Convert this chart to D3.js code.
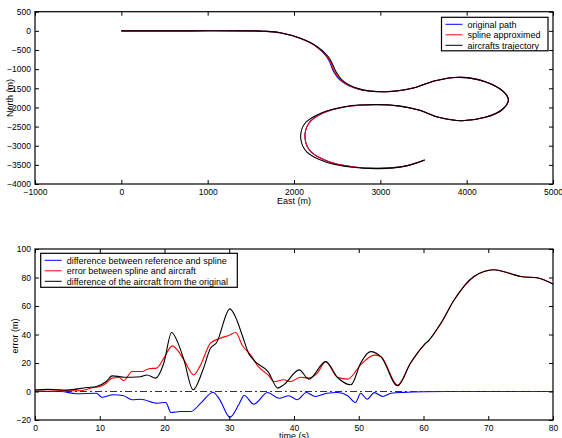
<!DOCTYPE html>
<html>
<head>
<meta charset="utf-8">
<script src="https://cdn.jsdelivr.net/npm/d3@7"></script>
<style>
    body { margin: 0; background: #fff; }
    text { font-family: "Liberation Sans", Arial, sans-serif; fill: #000; }
    .tick text { font-size: 8.5px; }
    .alabel { font-size: 9px; }
    .legend text { font-size: 9px; }
</style>
</head>
<body>
<div id="chart"></div>
<script>
// top plot: [East, North] in metres
var originalPath = [[0,0],[800,0],[1500,0],[1650,-10],[1840,-50],[2070,-196],[2263,-415],[2378,-676],[2420,-850],[2455,-1050],[2540,-1300],[2740,-1520],[3060,-1590],[3367,-1501],[3637,-1303],[3926,-1214],[4215,-1329],[4426,-1590],[4484,-1807],[4406,-2068],[4215,-2258],[3945,-2347],[3675,-2258],[3445,-2068],[3214,-1963],[2945,-1929],[2598,-1981],[2328,-2154],[2170,-2420],[2128,-2807],[2194,-3157],[2405,-3418],[2674,-3548],[2983,-3590],[3291,-3530],[3514,-3373]];
var splinePath = [[0,0],[800,0],[1500,0],[1650,-10],[1840,-50],[2070,-196],[2263,-415],[2385,-676],[2430,-850],[2465,-1050],[2550,-1300],[2745,-1520],[3060,-1590],[3367,-1501],[3637,-1303],[3926,-1214],[4215,-1329],[4426,-1590],[4484,-1807],[4406,-2068],[4215,-2258],[3945,-2347],[3675,-2258],[3445,-2068],[3214,-1963],[2945,-1929],[2598,-1981],[2328,-2154],[2170,-2420],[2128,-2807],[2194,-3157],[2405,-3418],[2674,-3548],[2983,-3590],[3291,-3530],[3514,-3373]];
var aircraftPath = [[0,0],[800,0],[1500,0],[1650,-10],[1840,-50],[2075,-196],[2270,-415],[2398,-676],[2442,-850],[2482,-1050],[2565,-1300],[2755,-1515],[3060,-1590],[3367,-1501],[3637,-1303],[3926,-1214],[4215,-1329],[4426,-1590],[4484,-1807],[4406,-2068],[4215,-2258],[3945,-2347],[3675,-2258],[3445,-2068],[3214,-1960],[2945,-1925],[2598,-1975],[2310,-2150],[2125,-2420],[2078,-2807],[2150,-3170],[2385,-3440],[2674,-3562],[2983,-3598],[3291,-3533],[3514,-3373]];
var topLegend = ["original path", "spline approximed", "aircrafts trajectory"];
var eastTicks = [-1000, 0, 1000, 2000, 3000, 4000, 5000];
var northTicks = [500, 0, -500, -1000, -1500, -2000, -2500, -3000, -3500, -4000];

// bottom plot: time (s) and error (m)
var refSplineT = [0,4,6.4,9.5,10.3,12.1,13.7,15,16.3,18.9,20.2,21,22.5,24.1,25.6,27.5,28.5,30.1,31.5,32.3,33.8,35.9,37.7,39.2,40.5,41.9,43.3,45.1,46.7,48.3,49.5,50.3,51.3,52.4,53.7,55,57,60,65,70,75,80];
var refSplineV = [0,0,-1.6,-1.2,-4,-2.3,-3,-5.8,-5.4,-8.2,-7.7,-14.7,-14,-14,-8.2,-0.5,-5.5,-18,-9,-2.8,-8.9,-0.7,-4.7,-3,-5.8,-0.7,-3.5,-1.2,-0.7,-3,-7.7,-1.2,-5.4,-0.8,-3.5,-1.2,-0.6,-0.2,0,0,0,0];
var splineAcT = [0,2,5,7,9,10,11,11.9,13,13.7,15,16.5,17.6,18.8,19.9,21.2,22,23,24.5,25.5,27.1,28.5,30,31,32,33.3,34.5,36,36.9,38.4,39.5,41,42.3,43.6,44.9,46.7,48.3,50.3,52.4,53.4,56,58,60.1,60.9,62.7,64.7,67.8,70.9,73.5,75,77.7,80];
var splineAcV = [1,1.2,0.5,0.5,2.8,3.5,5.8,9.4,9.8,7.7,14,14,16,16.4,23.4,32,29,22.2,11.7,18,33.9,37.2,39.5,41.4,32.5,25.7,17.4,11.6,7,8.2,7,10,9.5,12.9,21,10,8.7,18.7,25.5,24.6,4.6,20,32.8,36.3,48,64,80.7,85.4,82.6,80.7,79.6,75.4];
var origAcT = [0,2,5,8,9.5,11,11.9,13,13.7,16.3,17.3,18.6,19.9,21.1,22,23,24.4,26,27.1,28,30.1,31,32,33,34,36,37.5,38.5,40.8,42.3,44.9,46.7,48.8,50.3,51.8,53.5,56,58,60.1,60.9,62.7,64.7,67.8,70.9,73.5,75,77.7,80];
var origAcV = [1,1.5,1,2.8,3.5,7,11,10.5,10,10.4,11.6,9.4,20,41.4,35,22.2,1.2,16,30.4,34,58,52,39.5,26.7,21,14,2.4,5,15.2,8.7,21,10,4.7,20,28,24,4,20,32.8,36.3,48,64,80.7,85.4,82.6,80.7,79.6,75.4];
var bottomLegend = ["difference between reference and spline", "error between spline and aircraft", "difference of the aircraft from the original"];
var timeTicks = [0, 10, 20, 30, 40, 50, 60, 70, 80];
var errorTicks = [-20, 0, 20, 40, 60, 80, 100];

var colors = ["#0000ff", "#ff0000", "#000000"];

var svg = d3.select("#chart").append("svg")
    .attr("width", 562)
    .attr("height", 438);

var fmt = d3.format("d");

// draws frame, inward ticks on all four sides, labels on left and bottom
function frame(x, y, xt, yt) {
    var x0 = x.range()[0], x1 = x.range()[1], y0 = y.range()[0], y1 = y.range()[1];
    var g = svg.append("g");
    g.append("g").attr("transform", "translate(0," + y0 + ")")
        .call(d3.axisBottom(x).tickValues(xt).tickSize(-4).tickPadding(5).tickFormat(fmt));
    g.append("g").attr("transform", "translate(0," + y1 + ")")
        .call(d3.axisTop(x).tickValues(xt).tickSize(-4).tickFormat(""));
    g.append("g").attr("transform", "translate(" + x0 + ",0)")
        .call(d3.axisLeft(y).tickValues(yt).tickSize(-4).tickPadding(4).tickFormat(fmt));
    g.append("g").attr("transform", "translate(" + x1 + ",0)")
        .call(d3.axisRight(y).tickValues(yt).tickSize(-4).tickFormat(""));
    g.selectAll(".domain").remove();
    g.selectAll(".tick line").attr("stroke", "#000");
    g.selectAll(".tick text").attr("fill", "#000");
    g.append("rect")
        .attr("x", x0).attr("y", y1)
        .attr("width", x1 - x0).attr("height", y0 - y1)
        .attr("fill", "none").attr("stroke", "#000").attr("stroke-width", 1.2);
}

function legend(x, y, w, h, labels) {
    var lg = svg.append("g").attr("class", "legend").attr("transform", "translate(" + x + "," + y + ")");
    lg.append("rect").attr("width", w).attr("height", h)
        .attr("fill", "#fff").attr("stroke", "#000").attr("stroke-width", 1.2);
    var row = lg.selectAll("g.row").data(labels).enter().append("g")
        .attr("class", "row")
        .attr("transform", function(_, i) { return "translate(0," + (7 + i * 10.5) + ")"; });
    row.append("line")
        .attr("x1", 4).attr("x2", 21)
        .attr("stroke", function(_, i) { return colors[i]; });
    row.append("text")
        .attr("x", 26).attr("y", 3.2)
        .text(function(d) { return d; });
}

// ---- top plot
var xE = d3.scaleLinear().domain([-1000, 5000]).range([35, 553]);
var yN = d3.scaleLinear().domain([-4000, 500]).range([184, 11.7]);

var pathLine = d3.line()
    .x(function(d) { return xE(d[0]); })
    .y(function(d) { return yN(d[1]); })
    .curve(d3.curveCatmullRom.alpha(0.5));

[originalPath, splinePath, aircraftPath].forEach(function(p, i) {
    svg.append("path")
        .attr("d", pathLine(p))
        .attr("fill", "none")
        .attr("stroke", colors[i])
        .attr("stroke-width", 1.1);
});

frame(xE, yN, eastTicks, northTicks);
legend(441.5, 17.3, 106.5, 33.5, topLegend);

svg.append("text").attr("class", "alabel")
    .attr("x", 294).attr("y", 204)
    .attr("text-anchor", "middle")
    .text("East (m)");
svg.append("text").attr("class", "alabel")
    .attr("transform", "translate(12.5,98) rotate(-90)")
    .attr("text-anchor", "middle")
    .text("North (m)");

// ---- bottom plot
var xT = d3.scaleLinear().domain([0, 80]).range([35, 553]);
var yErr = d3.scaleLinear().domain([-20, 100]).range([420, 249]);

var errLine = d3.line()
    .x(function(d) { return xT(d[0]); })
    .y(function(d) { return yErr(d[1]); })
    .curve(d3.curveMonotoneX);

var series = [
    d3.zip(refSplineT, refSplineV),
    d3.zip(splineAcT, splineAcV),
    d3.zip(origAcT, origAcV)
];

svg.append("path")
    .attr("d", errLine(series[0]))
    .attr("fill", "none").attr("stroke", colors[0]).attr("stroke-width", 1.1);

svg.append("line")
    .attr("x1", xT(0)).attr("x2", xT(80))
    .attr("y1", yErr(0)).attr("y2", yErr(0))
    .attr("stroke", "#333").attr("stroke-width", 1.1)
    .attr("stroke-dasharray", "7,3,2,3");

series.slice(1).forEach(function(s, i) {
    svg.append("path")
        .attr("d", errLine(s))
        .attr("fill", "none")
        .attr("stroke", colors[i + 1])
        .attr("stroke-width", 1.1);
});

frame(xT, yErr, timeTicks, errorTicks);
legend(40.7, 253.3, 196.6, 34, bottomLegend);

svg.append("text").attr("class", "alabel")
    .attr("x", 294).attr("y", 439)
    .attr("text-anchor", "middle")
    .text("time (s)");
svg.append("text").attr("class", "alabel")
    .attr("transform", "translate(17.5,336) rotate(-90)")
    .attr("text-anchor", "middle")
    .text("error (m)");
</script>
</body>
</html>
